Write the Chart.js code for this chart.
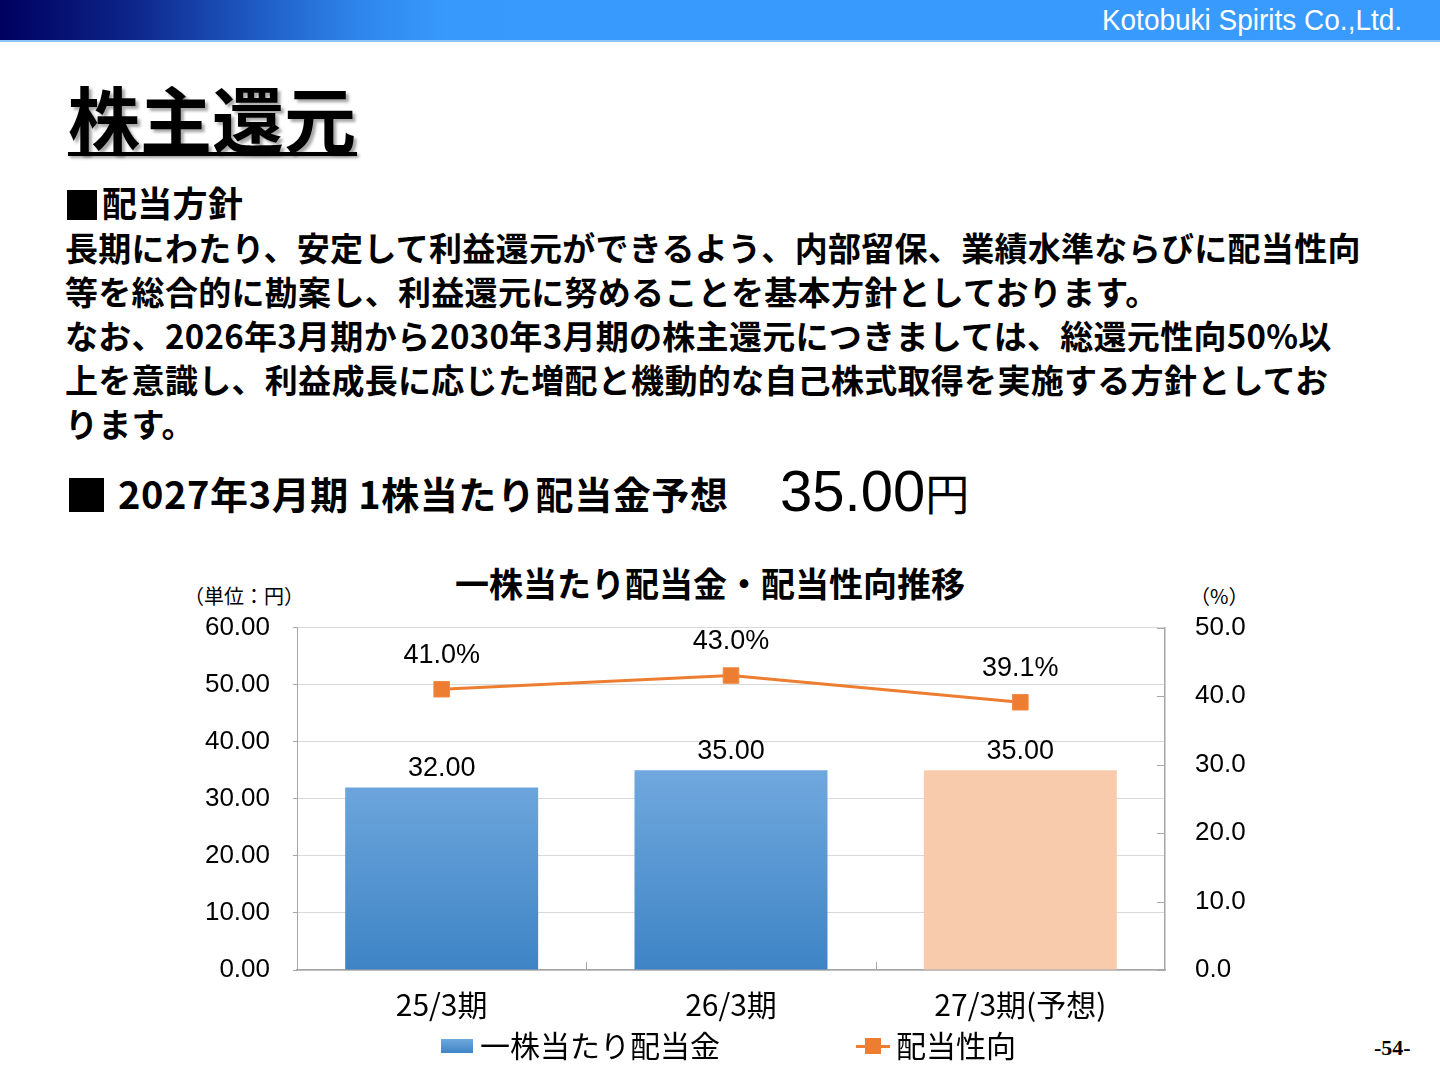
<!DOCTYPE html>
<html><head><meta charset="utf-8">
<script src="https://cdn.jsdelivr.net/npm/chart.js@4.4.1/dist/chart.umd.min.js"></script>
<style>
html,body{margin:0;padding:0;background:#fff;}
body{width:1440px;height:1080px;position:relative;overflow:hidden;font-family:"Noto Sans CJK JP","Noto Sans",sans-serif;color:#000;}
.abs{position:absolute;white-space:nowrap;}
#hdr{left:0;top:0;width:1440px;height:40px;background:linear-gradient(to right,#00005e 0%,#0d2488 9%,#1f5cc4 18%,#2f86ec 25%,#3899fd 31%,#3a9bff 100%);border-bottom:2px solid #8cc4ff;}
#hdrtxt{right:38px;top:0;height:40px;line-height:40px;font-family:"Liberation Sans Narrow","Liberation Sans",sans-serif;font-size:29px;color:#fff;transform:scaleX(0.965);transform-origin:right center;}
#title{left:68px;top:80px;font-size:72px;line-height:72px;font-weight:700;text-shadow:3px 3px 3px rgba(0,0,0,0.35);}
#uline{left:68px;top:152px;width:289px;height:4px;background:#000;box-shadow:2px 2px 3px rgba(0,0,0,0.35);}
.sq{background:#000;}
#body{left:65px;top:180px;font-size:33px;line-height:44px;font-weight:700;letter-spacing:0.3px;}
#body .hd{font-size:35px;padding-left:37px;}
#h2{left:118px;top:474px;font-size:38px;line-height:38px;font-weight:700;letter-spacing:0.6px;}
#big{left:780px;top:462px;line-height:58px;}
#big .n{font-family:"Liberation Sans",Arial,sans-serif;font-size:58px;}
#big .y{font-family:"Noto Sans CJK JP",sans-serif;font-size:44px;}
#ctitle{left:410px;width:600px;text-align:center;top:566px;font-size:34px;line-height:34px;font-weight:700;}
.unit{top:586px;font-size:20px;line-height:20px;}
#chartbox{left:180px;top:582px;width:1100px;height:448px;}
#chartbox canvas{display:block;}
.leg{top:1029px;font-size:30px;line-height:30px;}
#page{left:1374px;top:1037px;font-family:"Liberation Serif","Times New Roman",serif;font-weight:700;font-size:22px;line-height:22px;}
</style>
</head>
<body>
<div id="hdr" class="abs"></div>
<div id="hdrtxt" class="abs">Kotobuki Spirits Co.,Ltd.</div>
<div id="title" class="abs">株主還元</div>
<div id="uline" class="abs"></div>
<div class="abs sq" style="left:67px;top:190px;width:30px;height:30px;"></div>
<div id="body" class="abs"><span class="hd">配当方針</span><br>長期にわたり、安定して利益還元ができるよう、内部留保、業績水準ならびに配当性向<br>等を総合的に勘案し、利益還元に努めることを基本方針としております。<br>なお、2026年3月期から2030年3月期の株主還元につきましては、総還元性向50%以<br>上を意識し、利益成長に応じた増配と機動的な自己株式取得を実施する方針としてお<br>ります。</div>
<div class="abs sq" style="left:69px;top:478px;width:35px;height:34px;"></div>
<div id="h2" class="abs">2027年3月期 1株当たり配当金予想</div>
<div id="big" class="abs"><span class="n">35.00</span><span class="y">円</span></div>
<div id="ctitle" class="abs">一株当たり配当金・配当性向推移</div>
<div class="abs unit" style="left:184px;">（単位：円）</div>
<div class="abs unit" style="left:1190px;">（%）</div>
<div id="chartbox" class="abs"><canvas id="c" width="1100" height="448"></canvas></div>
<div class="abs" style="left:441px;top:1039px;width:32px;height:14px;background:linear-gradient(#70a8de,#3e84c5);"></div>
<div class="abs leg" style="left:480px;">一株当たり配当金</div>
<div class="abs" style="left:856px;top:1045px;width:34px;height:3px;background:#ed7d31;"></div>
<div class="abs" style="left:865px;top:1038px;width:16px;height:16px;background:#ed7d31;"></div>
<div class="abs leg" style="left:896px;">配当性向</div>
<div id="page" class="abs">-54-</div>

<script>
// ---- data ----
const categories = ['25/3期', '26/3期', '27/3期(予想)'];
const dividendPerShare = [32.00, 35.00, 35.00];
const payoutRatio = [41.0, 43.0, 39.1];
const isForecast = [false, false, true];
const leftTicks = [0, 10, 20, 30, 40, 50, 60];
const rightTicks = [0, 10, 20, 30, 40, 50];

const NUM_FONT = '"Liberation Sans", Arial, sans-serif';
const JP_FONT = '"Noto Sans CJK JP", sans-serif';

function barColor(ctx) {
  const chart = ctx.chart;
  const area = chart.chartArea;
  if (!area) return '#5b9bd5';
  if (isForecast[ctx.dataIndex]) return '#f8cbad';
  const yTop = chart.scales.y.getPixelForValue(Math.max(...dividendPerShare));
  const g = chart.ctx.createLinearGradient(0, yTop, 0, area.bottom);
  g.addColorStop(0, '#70a8de');
  g.addColorStop(1, '#3e84c5');
  return g;
}

const innerTicks = {
  id: 'innerTicks',
  afterDatasetsDraw(chart) {
    const {ctx, chartArea, scales} = chart;
    ctx.save();
    ctx.strokeStyle = '#a6a6a6';
    ctx.lineWidth = 1;
    ctx.beginPath();
    for (let i = 1; i < categories.length; i++) {
      const x = Math.round((scales.x.getPixelForValue(i - 1) + scales.x.getPixelForValue(i)) / 2) + 0.5;
      ctx.moveTo(x, chartArea.bottom);
      ctx.lineTo(x, chartArea.bottom - 8);
    }
    rightTicks.forEach(v => {
      const y = Math.round(scales.y2.getPixelForValue(v)) + 0.5;
      ctx.moveTo(chartArea.right, y);
      ctx.lineTo(chartArea.right - 8, y);
    });
    ctx.stroke();
    ctx.restore();
  }
};

const valueLabels = {
  id: 'valueLabels',
  afterDatasetsDraw(chart) {
    const {ctx} = chart;
    ctx.save();
    ctx.fillStyle = '#000';
    ctx.textAlign = 'center';
    ctx.textBaseline = 'middle';
    ctx.font = '27px ' + NUM_FONT;
    const barMeta = chart.getDatasetMeta(0);
    barMeta.data.forEach((el, i) => {
      ctx.fillText(dividendPerShare[i].toFixed(2), el.x, el.y - 19);
    });
    const lineMeta = chart.getDatasetMeta(1);
    lineMeta.data.forEach((el, i) => {
      ctx.fillText(payoutRatio[i].toFixed(1) + '%', el.x, el.y - 34);
    });
    ctx.restore();
  }
};

new Chart(document.getElementById('c'), {
  data: {
    labels: categories,
    datasets: [
      {
        type: 'bar',
        label: '一株当たり配当金',
        data: dividendPerShare,
        yAxisID: 'y',
        backgroundColor: barColor,
        borderWidth: 0,
        barPercentage: 0.667,
        categoryPercentage: 1.0,
        order: 2
      },
      {
        type: 'line',
        label: '配当性向',
        data: payoutRatio,
        yAxisID: 'y2',
        borderColor: '#ed7d31',
        borderWidth: 3,
        pointStyle: 'rect',
        pointRadius: 11,
        pointBackgroundColor: '#ed7d31',
        pointBorderColor: '#f08a45',
        pointBorderWidth: 1,
        tension: 0,
        order: 1
      }
    ]
  },
  options: {
    responsive: false,
    animation: false,
    devicePixelRatio: 1,
    layout: {padding: {top: 9, bottom: 0, left: 0, right: 0}},
    plugins: {legend: {display: false}, tooltip: {enabled: false}},
    scales: {
      x: {
        offset: true,
        grid: {display: false, drawTicks: false},
        border: {display: true, color: '#a6a6a6', width: 1.5},
        ticks: {color: '#000', font: {family: JP_FONT, size: 30}, padding: 17},
        afterFit(s) { s.height = 60; }
      },
      y: {
        position: 'left',
        min: 0, max: 60,
        afterBuildTicks(s) { s.ticks = leftTicks.map(v => ({value: v})); },
        grid: {color: '#d9d9d9', lineWidth: 1, tickLength: 4, tickColor: '#a6a6a6'},
        border: {display: true, color: '#a6a6a6', width: 1},
        ticks: {color: '#000', font: {family: NUM_FONT, size: 26}, padding: 23, callback: v => Number(v).toFixed(2)},
        afterFit(s) { s.width = 117; }
      },
      y2: {
        position: 'right',
        min: 0, max: 50,
        afterBuildTicks(s) { s.ticks = rightTicks.map(v => ({value: v})); },
        grid: {display: true, drawOnChartArea: false, drawTicks: false},
        border: {display: true, color: '#a6a6a6', width: 1.5},
        ticks: {color: '#000', font: {family: NUM_FONT, size: 26}, padding: 30, callback: v => Number(v).toFixed(1)},
        afterFit(s) { s.width = 115; }
      }
    }
  },
  plugins: [innerTicks, valueLabels]
});
</script>
</body></html>
